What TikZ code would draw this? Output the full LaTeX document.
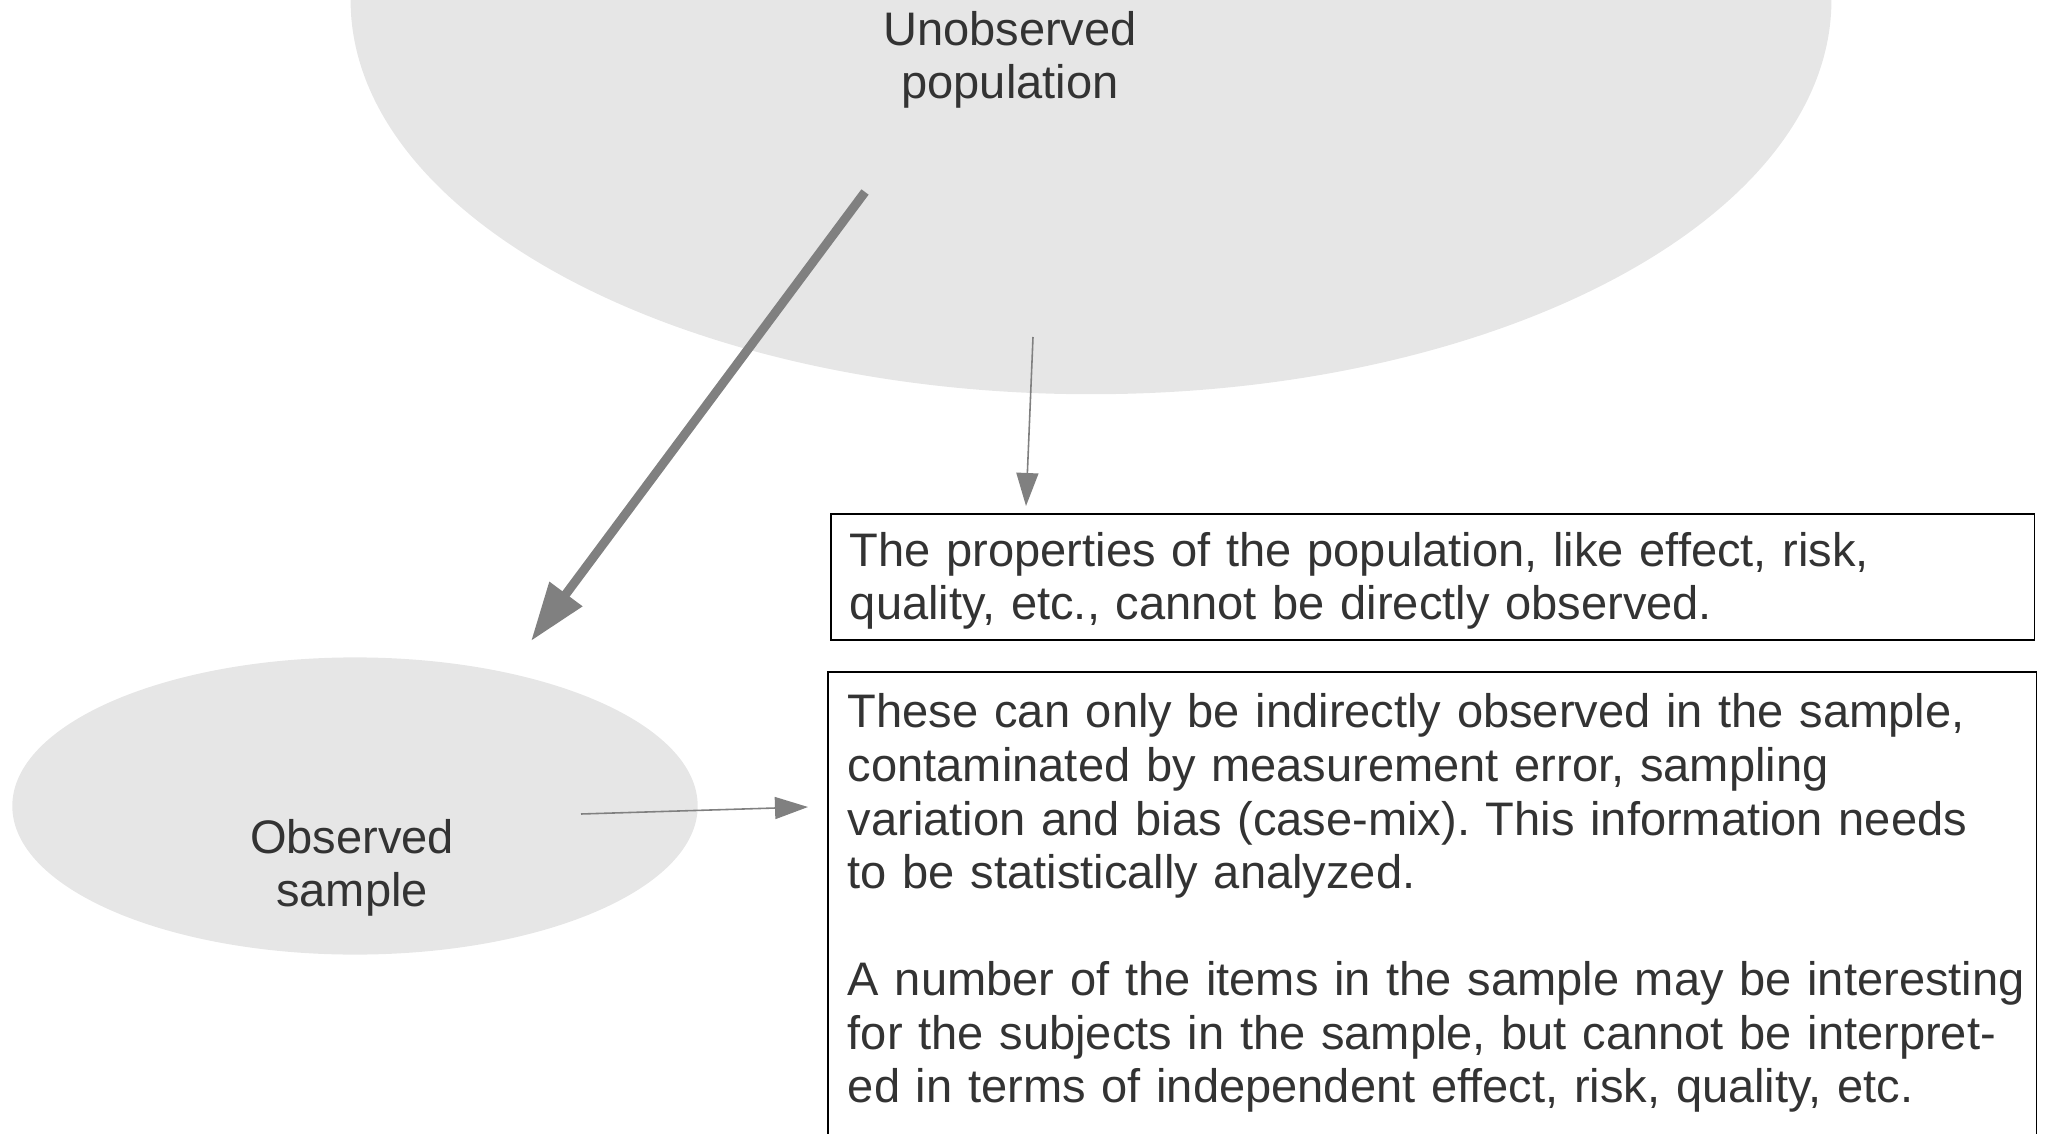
\documentclass[tikz,border=0pt]{standalone}
\usepackage{fontspec}
\setmainfont{Liberation Sans}
\usetikzlibrary{arrows.meta,shapes.geometric}
\frenchspacing

\definecolor{cloudgray}{HTML}{E6E6E6}
\definecolor{arrowgray}{HTML}{808080}
\definecolor{inkgray}{HTML}{333333}

\begin{document}
\begin{tikzpicture}[x=0.01cm,y=-0.01cm,
  cloud/.style={ellipse, fill=cloudgray, inner sep=0pt},
  cloudtext/.style={align=center, text=inkgray, font=\fontsize{13.38}{15.23}\selectfont},
  infobox/.style={draw=black, line width=0.5pt, anchor=north west, align=left,
    text=inkgray, font=\fontsize{13.38}{15.23}\selectfont},
  bigarrow/.style={draw=arrowgray, line width=0.09cm, -{Triangle[length=0.586cm,width=0.388cm]}},
  thinarrow/.style={draw=arrowgray, line width=0.45pt, -{Triangle[length=0.33cm,width=0.22cm]}}]
  \useasboundingbox (0,0) rectangle (2046,1134);
  \clip (0,0) rectangle (2046,1134);

  \node[cloud, minimum width=14.80cm, minimum height=7.88cm] (pop) at (1091,0) {};
  \node[cloud, minimum width=6.85cm, minimum height=2.97cm] (samp) at (355,806) {};
  \node[cloudtext] (poptext) at (1010,60) {Unobserved\\population};
  \node[cloudtext] (samptext) at (352,868) {Observed\\sample};

  \node[infobox, text width=11.65cm, inner xsep=0.19cm, inner ysep=0.05cm, text height=0.42cm,
    minimum width=12.03cm, minimum height=1.26cm]
    (props) at (830,513) {The properties of the population, like effect, risk,\\
    quality, etc., cannot be directly observed.};
  \node[infobox, text width=11.68cm, inner xsep=0.2cm, inner ysep=0.22cm, text depth=6cm]
    (info) at (827,671) {These can only be indirectly observed in the sample,\\
    contaminated by measurement error, sampling\\
    variation and bias (case-mix). This information needs\\
    to be statistically analyzed.\\[15.23pt]
    \mbox{A number of the items in the sample may be interesting}\\
    for the subjects in the sample, but cannot be interpret-\\
    ed in terms of independent effect, risk, quality, etc.};

  \coordinate (popout) at (865,192);
  \coordinate (samptop) at (531,641);
  \coordinate (popfoot) at (1033,337);
  \coordinate (propstop) at (1026,506);
  \coordinate (sampout) at (581,814);
  \coordinate (infoside) at (808,807);

  \draw[bigarrow] (popout) -- (samptop);
  \draw[thinarrow] (popfoot) -- (propstop);
  \draw[thinarrow] (sampout) -- (infoside);
\end{tikzpicture}
\end{document}
